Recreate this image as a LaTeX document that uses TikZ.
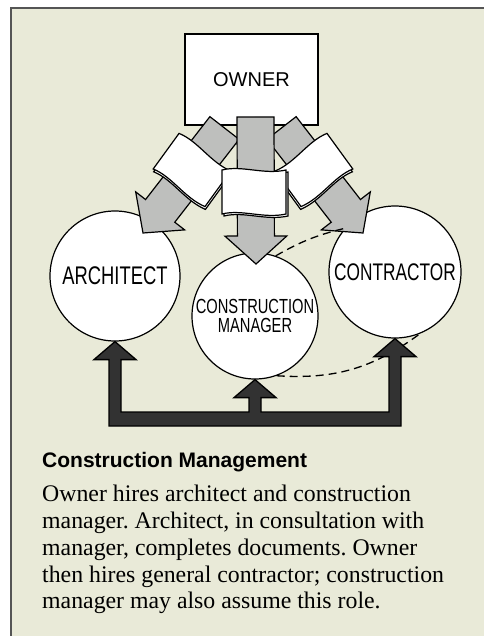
\documentclass[tikz,border=0pt]{standalone}
\usepackage{fontspec}
\setmainfont{Liberation Serif}
\newfontfamily\handfont[FakeStretch=0.72]{Liberation Sans}
\newfontfamily\headfont{Liberation Sans}
\usetikzlibrary{calc}
\frenchspacing

\definecolor{pagebg}{RGB}{233,234,216}
\definecolor{arrowgray}{RGB}{190,191,189}
\definecolor{darkfill}{RGB}{50,50,50}
\definecolor{framegray}{RGB}{85,85,85}

\newcommand{\fatarrow}[2]{%
  \coordinate (hb) at ($(#2)!28pt!(#1)$);
  \filldraw[grayarr] ($(#1)!18.5pt!90:(#2)$) -- ($(hb)!18.5pt!90:(#2)$)
    -- ($(hb)!31pt!90:(#2)$) -- (#2) -- ($(hb)!31pt!-90:(#2)$)
    -- ($(hb)!18.5pt!-90:(#2)$) -- ($(#1)!18.5pt!-90:(#2)$) -- cycle;}

\begin{document}
\begin{tikzpicture}[x=1pt, y=1pt,
  party/.style={circle, draw, fill=white, line width=1.2pt, inner sep=0pt, align=center},
  grayarr/.style={fill=arrowgray, draw=black, line width=1.2pt},
  darkarr/.style={fill=darkfill, draw=black, line width=1.3pt},
  link/.style={dash pattern=on 8pt off 5pt, line width=1.3pt},
  sheet/.style={fill=white, draw=black, line width=1.2pt},
  paper/.pic={
    \filldraw[sheet, shift={(2,-2)}] (-32,22) .. controls (-12,27) and (10,17) .. (32,22)
      -- (32,-22) .. controls (10,-27) and (-12,-17) .. (-32,-22) -- cycle;
    \filldraw[sheet] (-32,22) .. controls (-12,27) and (10,17) .. (32,22)
      -- (32,-22) .. controls (10,-27) and (-12,-17) .. (-32,-22) -- cycle;
  }
]
\useasboundingbox (0,0) rectangle (484,-636);
\fill[white] (0,0) rectangle (484,-636);
\fill[pagebg] (11,-8) rectangle (484,-636);
\draw[framegray, line width=1.5pt] (11,-636) -- (11,-8) -- (484,-8);

\node[draw, fill=white, line width=1.2pt, minimum width=133pt, minimum height=91pt,
      font=\headfont\fontsize{20}{22}\selectfont] (owner) at (251.5,-79.5) {OWNER};
\node[party, minimum size=130pt, font=\handfont\fontsize{25.5}{27}\selectfont] (arch) at (115,-276) {ARCHITECT};
\node[party, minimum size=126pt, font=\handfont\fontsize{20.4}{19.5}\selectfont] (cm) at (255,-316) {CONSTRUCTION\\MANAGER};
\node[party, minimum size=132pt, font=\handfont\fontsize{24}{26}\selectfont] (con) at (395,-272) {CONTRACTOR};

\coordinate (ltail) at (224.5,-128);
\coordinate (ltip)  at (143,-233);
\coordinate (ctail) at (255.5,-117);
\coordinate (ctip)  at (256,-264);
\coordinate (rtail) at (281.5,-128);
\coordinate (rtip)  at (363,-233);
\fatarrow{ltail}{ltip}
\fatarrow{rtail}{rtip}
\fatarrow{ctail}{ctip}

\pic[rotate=-36] at (192,-170) {paper};
\pic[xscale=-1, rotate=-36] at (314,-170) {paper};
\pic at (254,-192) {paper};

\draw[link] (cm.71) to[bend left=8] (con.139);
\draw[link] (cm.290) to[bend right=20] (con.292);

\coordinate (bartop) at (0,-412);
\coordinate (barbot) at (0,-426);
\draw[darkarr] (arch.south) -- ++(21,-18) -- ++(-15,0) |- ([xshift=-6pt]cm.south |- bartop)
  -- ([xshift=-6pt, yshift=-18pt]cm.south) -- ++(-15,0) -- (cm.south) -- ++(21,-18) -- ++(-15,0)
  |- ([xshift=-6pt]con.south |- bartop) -- ([xshift=-6pt, yshift=-18pt]con.south) -- ++(-15,0)
  -- (con.south) -- ++(21,-18) -- ++(-15,0) |- ([xshift=-6pt]arch.south |- barbot)
  -- ([xshift=-6pt, yshift=-18pt]arch.south) -- ++(-15,0) -- cycle;

\node[anchor=base west, inner sep=0pt, font=\headfont\bfseries\fontsize{21}{24}\selectfont] (title)
  at (42,-467) {Construction Management};
\node[anchor=north west, inner sep=0pt, align=left, font=\fontsize{23.8}{26.8}\selectfont] (body)
  at (42,-485) {Owner hires architect and construction\\
  manager. Architect, in consultation with\\
  manager, completes documents. Owner\\
  then hires general contractor; construction\\
  manager may also assume this role.};
\end{tikzpicture}
\end{document}
